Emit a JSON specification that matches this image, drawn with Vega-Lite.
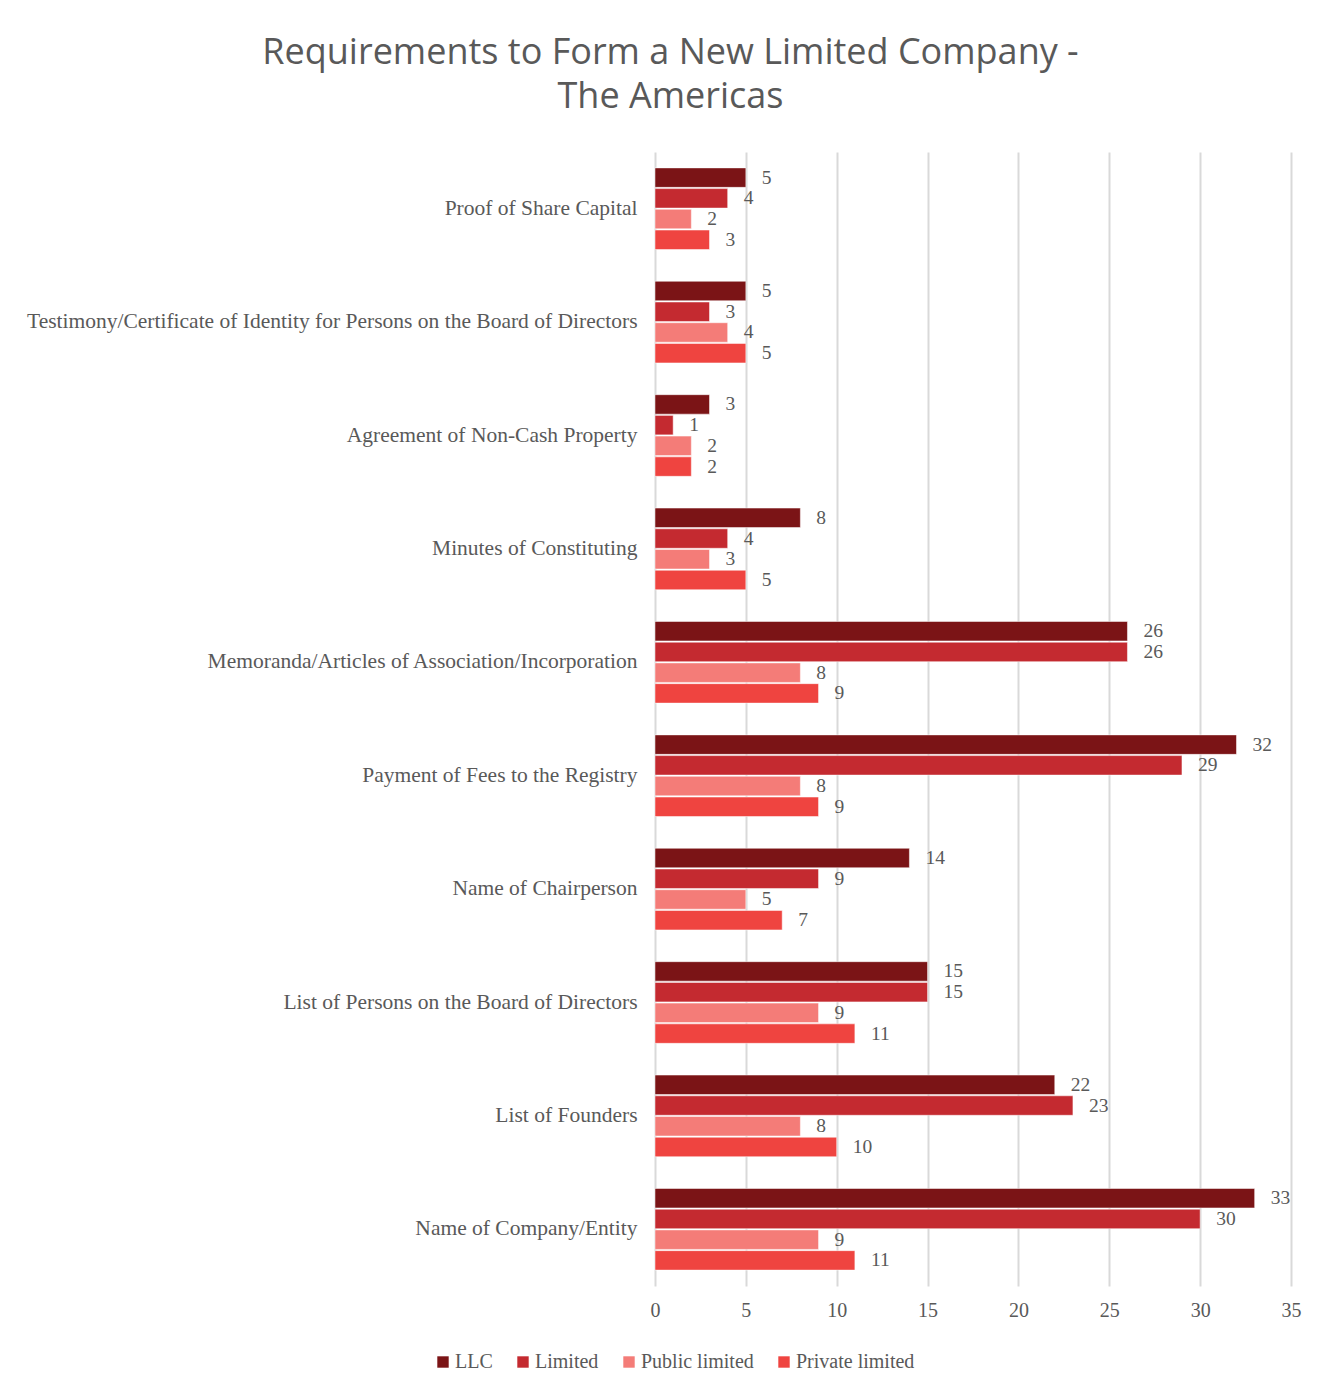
{
  "$schema": "https://vega.github.io/schema/vega-lite/v6.json",
  "width": 636,
  "height": 1134,
  "padding": {"left": 0, "top": 35, "right": 20, "bottom": 5},
  "background": "white",
  "title": {
    "text": ["Requirements to Form a New Limited Company -", "The Americas"],
    "font": "Open Sans",
    "fontSize": 36,
    "fontWeight": "normal",
    "color": "#595959",
    "anchor": "middle",
    "frame": "bounds",
    "lineHeight": 44,
    "offset": 36,
    "dx": 20
  },
  "data": {
    "values": [
      {"req": "Proof of Share Capital", "type": "LLC", "count": 5},
      {"req": "Proof of Share Capital", "type": "Limited", "count": 4},
      {"req": "Proof of Share Capital", "type": "Public limited", "count": 2},
      {"req": "Proof of Share Capital", "type": "Private limited", "count": 3},
      {"req": "Testimony/Certificate of Identity for Persons on the Board of Directors", "type": "LLC", "count": 5},
      {"req": "Testimony/Certificate of Identity for Persons on the Board of Directors", "type": "Limited", "count": 3},
      {"req": "Testimony/Certificate of Identity for Persons on the Board of Directors", "type": "Public limited", "count": 4},
      {"req": "Testimony/Certificate of Identity for Persons on the Board of Directors", "type": "Private limited", "count": 5},
      {"req": "Agreement of Non-Cash Property", "type": "LLC", "count": 3},
      {"req": "Agreement of Non-Cash Property", "type": "Limited", "count": 1},
      {"req": "Agreement of Non-Cash Property", "type": "Public limited", "count": 2},
      {"req": "Agreement of Non-Cash Property", "type": "Private limited", "count": 2},
      {"req": "Minutes of Constituting", "type": "LLC", "count": 8},
      {"req": "Minutes of Constituting", "type": "Limited", "count": 4},
      {"req": "Minutes of Constituting", "type": "Public limited", "count": 3},
      {"req": "Minutes of Constituting", "type": "Private limited", "count": 5},
      {"req": "Memoranda/Articles of Association/Incorporation", "type": "LLC", "count": 26},
      {"req": "Memoranda/Articles of Association/Incorporation", "type": "Limited", "count": 26},
      {"req": "Memoranda/Articles of Association/Incorporation", "type": "Public limited", "count": 8},
      {"req": "Memoranda/Articles of Association/Incorporation", "type": "Private limited", "count": 9},
      {"req": "Payment of Fees to the Registry", "type": "LLC", "count": 32},
      {"req": "Payment of Fees to the Registry", "type": "Limited", "count": 29},
      {"req": "Payment of Fees to the Registry", "type": "Public limited", "count": 8},
      {"req": "Payment of Fees to the Registry", "type": "Private limited", "count": 9},
      {"req": "Name of Chairperson", "type": "LLC", "count": 14},
      {"req": "Name of Chairperson", "type": "Limited", "count": 9},
      {"req": "Name of Chairperson", "type": "Public limited", "count": 5},
      {"req": "Name of Chairperson", "type": "Private limited", "count": 7},
      {"req": "List of Persons on the Board of Directors", "type": "LLC", "count": 15},
      {"req": "List of Persons on the Board of Directors", "type": "Limited", "count": 15},
      {"req": "List of Persons on the Board of Directors", "type": "Public limited", "count": 9},
      {"req": "List of Persons on the Board of Directors", "type": "Private limited", "count": 11},
      {"req": "List of Founders", "type": "LLC", "count": 22},
      {"req": "List of Founders", "type": "Limited", "count": 23},
      {"req": "List of Founders", "type": "Public limited", "count": 8},
      {"req": "List of Founders", "type": "Private limited", "count": 10},
      {"req": "Name of Company/Entity", "type": "LLC", "count": 33},
      {"req": "Name of Company/Entity", "type": "Limited", "count": 30},
      {"req": "Name of Company/Entity", "type": "Public limited", "count": 9},
      {"req": "Name of Company/Entity", "type": "Private limited", "count": 11}
    ]
  },
  "encoding": {
    "y": {
      "field": "req",
      "type": "nominal",
      "sort": null,
      "scale": {"paddingInner": 0.28, "paddingOuter": 0.14},
      "axis": {
        "title": null,
        "domain": false,
        "ticks": false,
        "grid": false,
        "labelPadding": 18,
        "labelFont": "Liberation Serif",
        "labelFontSize": 21.5,
        "labelColor": "#595959",
        "labelLimit": 700,
        "minExtent": 655,
        "maxExtent": 655
      }
    },
    "yOffset": {
      "field": "type",
      "type": "nominal",
      "sort": ["LLC", "Limited", "Public limited", "Private limited"],
      "scale": {"paddingInner": 0.06, "paddingOuter": 0}
    },
    "x": {
      "field": "count",
      "type": "quantitative",
      "scale": {"domain": [0, 35], "nice": false},
      "axis": {
        "title": null,
        "values": [0, 5, 10, 15, 20, 25, 30, 35],
        "domain": false,
        "ticks": false,
        "grid": true,
        "gridColor": "#d9d9d9",
        "gridWidth": 2,
        "labelFlush": false,
        "labelPadding": 14,
        "labelFont": "Liberation Serif",
        "labelFontSize": 20,
        "labelColor": "#595959"
      }
    }
  },
  "layer": [
    {
      "mark": {"type": "bar", "stroke": "white", "strokeWidth": 0.5},
      "encoding": {
        "color": {
          "field": "type",
          "type": "nominal",
          "sort": ["LLC", "Limited", "Public limited", "Private limited"],
          "scale": {
            "domain": ["LLC", "Limited", "Public limited", "Private limited"],
            "range": ["#7B1416", "#C42A30", "#F47C78", "#EF4440"]
          },
          "legend": {
            "title": null,
            "orient": "none",
            "direction": "horizontal",
            "legendX": -222,
            "legendY": 1200,
            "symbolType": "square",
            "symbolSize": 130,
            "symbolStrokeWidth": 0,
            "labelFont": "Liberation Serif",
            "labelFontSize": 20,
            "labelColor": "#595959",
            "labelOffset": 2,
            "columnPadding": 20
          }
        }
      }
    },
    {
      "mark": {
        "type": "text",
        "align": "left",
        "baseline": "middle",
        "dx": 16,
        "font": "Liberation Serif",
        "fontSize": 19.5,
        "color": "#595959"
      },
      "encoding": {"text": {"field": "count", "type": "quantitative"}}
    }
  ],
  "config": {"view": {"stroke": null}}
}
